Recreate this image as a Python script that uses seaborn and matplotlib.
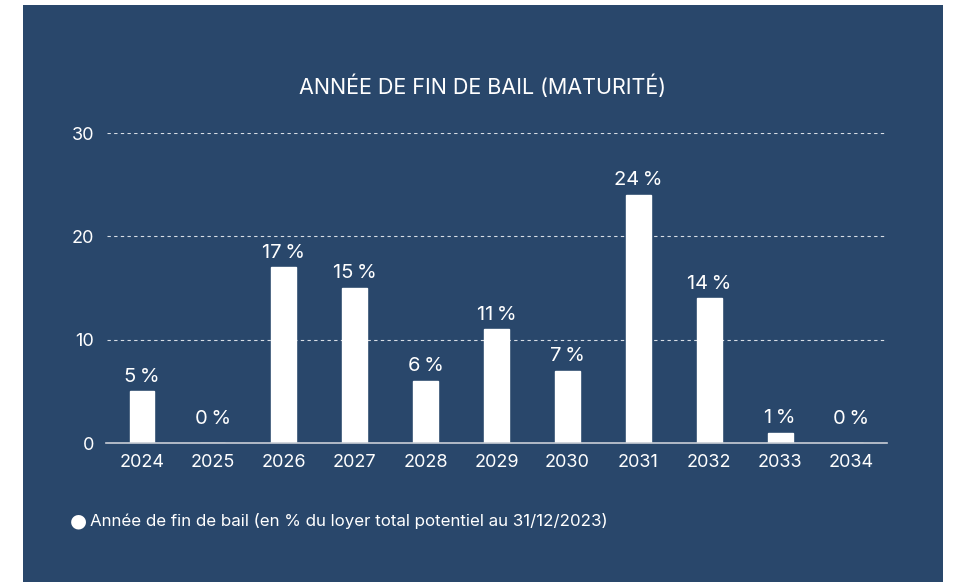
import matplotlib
matplotlib.use("Agg")
import matplotlib.pyplot as plt
import seaborn as sns
import pandas as pd
from matplotlib.patches import Rectangle

# data
years = ["2024", "2025", "2026", "2027", "2028", "2029", "2030", "2031", "2032", "2033", "2034"]
shares = [5, 0, 17, 15, 6, 11, 7, 24, 14, 1, 0]
y_ticks = [0, 10, 20, 30]

title = "ANNÉE DE FIN DE BAIL (MATURITÉ)"
legend_label = "Année de fin de bail (en % du loyer total potentiel au 31/12/2023)"

BG = "#29476b"
FG = "white"

sns.set_theme(style="white")
plt.rcParams["font.family"] = ["Inter", "DejaVu Sans"]

df = pd.DataFrame({"year": years, "share": shares})

fig = plt.figure(figsize=(9.56, 5.82), dpi=100)
fig.patch.set_facecolor("white")
# dark panel behind the chart
fig.patches.append(Rectangle((23 / 956, 0), (943 - 23) / 956, 1 - 5 / 582,
                             transform=fig.transFigure, facecolor=BG,
                             edgecolor="none", zorder=-10))

ax = fig.add_axes([106.5 / 956, 1 - 443 / 582, 780 / 956, 310 / 582])
ax.set_facecolor("none")

sns.barplot(data=df, x="year", y="share", color=FG, saturation=1,
            width=0.35, ax=ax, zorder=3)

ax.set_ylim(0, 30)
ax.set_xlim(-0.5, len(years) - 0.5)
ax.set_yticks(y_ticks)
for t in y_ticks[1:]:
    ax.axhline(t, color="#d8dee6", lw=0.8, ls=(0, (3, 3)), zorder=1)

for s in ["top", "right", "left"]:
    ax.spines[s].set_visible(False)
ax.spines["bottom"].set_color("#c9ced6")
ax.spines["bottom"].set_linewidth(1.2)
ax.spines["bottom"].set_zorder(4)

ax.tick_params(axis="both", colors=FG, labelsize=13, length=0)
ax.tick_params(axis="x", pad=8)
ax.tick_params(axis="y", pad=9)
ax.set_xlabel("")
ax.set_ylabel("")

# value labels above each bar (zero bars get a bit more room)
for i, v in enumerate(shares):
    pad = 13.5 if v == 0 else 7
    ax.annotate(f"{v}\u202f%", (i, v), xytext=(0, pad), textcoords="offset points",
                ha="center", va="baseline", color=FG, fontsize=14.5, zorder=5)

fig.text(483 / 956, 1 - 86 / 582, title, ha="center", va="center",
         color=FG, fontsize=15.5)

# legend entry
fig.text(78.5 / 956, 1 - 521 / 582, "\u25cf", ha="center", va="center",
         color=FG, fontsize=14, family=["DejaVu Sans"])
fig.text(90 / 956, 1 - 521 / 582, legend_label, ha="left", va="center",
         color=FG, fontsize=12.2)

fig.savefig("out.png", dpi=100, facecolor=fig.get_facecolor())
